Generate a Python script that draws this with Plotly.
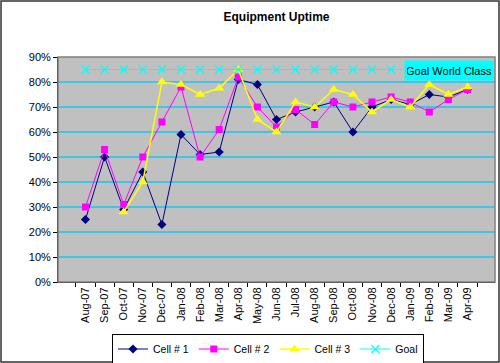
import plotly.graph_objects as go

months = ["Aug-07", "Sep-07", "Oct-07", "Nov-07", "Dec-07", "Jan-08", "Feb-08", "Mar-08",
          "Apr-08", "May-08", "Jun-08", "Jul-08", "Aug-08", "Sep-08", "Oct-08", "Nov-08",
          "Dec-08", "Jan-09", "Feb-09", "Mar-09", "Apr-09"]
cell1 = [0.25, 0.50, 0.29, 0.44, 0.23, 0.59, 0.51, 0.52, 0.81, 0.79, 0.65, 0.68, 0.70,
         0.72, 0.60, 0.70, 0.73, 0.71, 0.75, 0.74, 0.77]
cell2 = [0.30, 0.53, 0.31, 0.50, 0.64, 0.78, 0.50, 0.61, 0.82, 0.70, 0.62, 0.69, 0.63,
         0.72, 0.70, 0.72, 0.74, 0.72, 0.68, 0.73, 0.77]
cell3 = [None, None, 0.28, 0.40, 0.80, 0.79, 0.75, 0.775, 0.85, 0.65, 0.60, 0.72, 0.70,
         0.77, 0.75, 0.68, 0.73, 0.70, 0.79, 0.75, 0.78]
goal = [0.85] * 21
yticks = [0, 0.1, 0.2, 0.3, 0.4, 0.5, 0.6, 0.7, 0.8, 0.9]
ytick_labels = ["0%", "10%", "20%", "30%", "40%", "50%", "60%", "70%", "80%", "90%"]

W, H = 500, 363
ML, MR, MT, MB = 58, 5, 57, 81
PW, PH = W - ML - MR, H - MT - MB

def px_to_paper(x, y):
    return (x - ML) / PW, (H - MB - y) / PH

fig = go.Figure()
fig.add_trace(go.Scatter(x=months, y=cell1, name="Cell # 1", mode="lines+markers",
                         line=dict(color="#000080", width=1),
                         marker=dict(symbol="diamond", size=7, color="#000080")))
fig.add_trace(go.Scatter(x=months, y=cell2, name="Cell # 2", mode="lines+markers",
                         line=dict(color="#FF00FF", width=1),
                         marker=dict(symbol="square", size=7, color="#FF00FF")))
fig.add_trace(go.Scatter(x=months, y=cell3, name="Cell # 3", mode="lines+markers",
                         line=dict(color="#FFFF00", width=1.5),
                         marker=dict(symbol="triangle-up", size=9, color="#FFFF00")))
fig.add_trace(go.Scatter(x=months, y=goal, name="Goal", mode="lines+markers",
                         line=dict(color="#00FFFF", width=1),
                         marker=dict(symbol="x-thin-open", size=8,
                                     line=dict(color="#00FFFF", width=1.2), color="#00FFFF")))

x0, y0 = px_to_paper(1, H - 1)
x1, y1 = px_to_paper(W - 1, 1)
fig.add_shape(type="rect", xref="paper", yref="paper", x0=x0, y0=y0, x1=x1, y1=y1,
              line=dict(color="#333333", width=1.5), layer="above")
fig.add_shape(type="rect", xref="paper", yref="paper", x0=0, y0=0, x1=1, y1=1,
              line=dict(color="#808080", width=1.5), layer="above")

bx, by = px_to_paper(449, 71)
fig.add_annotation(text="Goal World Class", xref="paper", yref="paper", x=bx, y=by,
                   xanchor="center", yanchor="middle", showarrow=False,
                   font=dict(family="Arial, Liberation Sans", size=11, color="#000000"),
                   bgcolor="#00FFFF", borderpad=2, width=84, height=15)

lx, ly = px_to_paper(268, 349)
fig.update_layout(
    width=W, height=H,
    margin=dict(l=ML, r=MR, t=MT, b=MB, autoexpand=False),
    paper_bgcolor="white", plot_bgcolor="#C0C0C0",
    font=dict(family="Arial, Liberation Sans", size=10, color="#000000"),
    title=dict(text="<b>Equipment Uptime</b>", x=0.5, xref="paper", xanchor="center",
               y=1 - 17 / H, yanchor="middle", font=dict(size=12)),
    showlegend=True,
    legend=dict(orientation="h", x=lx, y=ly, xanchor="center", yanchor="middle",
                bordercolor="#000000", borderwidth=1, bgcolor="white",
                font=dict(size=10.5), itemwidth=30, tracegroupgap=0),
    xaxis=dict(type="category", categoryorder="array", categoryarray=months,
               tickangle=-90, showgrid=False, showline=True, linecolor="#000000",
               linewidth=1, ticks="outside", tickson="boundaries", ticklen=4,
               tickcolor="#000000", tickfont=dict(size=11)),
    yaxis=dict(range=[0, 0.9], tickvals=yticks, ticktext=ytick_labels,
               showgrid=True, gridcolor="#40C4E8", gridwidth=1.5,
               showline=True, linecolor="#000000", linewidth=1, ticks="outside",
               ticklen=4, tickcolor="#000000", zeroline=False, tickfont=dict(size=11)),
)

fig.write_html("out.html", config={"displayModeBar": False},
               post_script="document.body.style.margin='0';document.body.style.overflow='hidden';")
